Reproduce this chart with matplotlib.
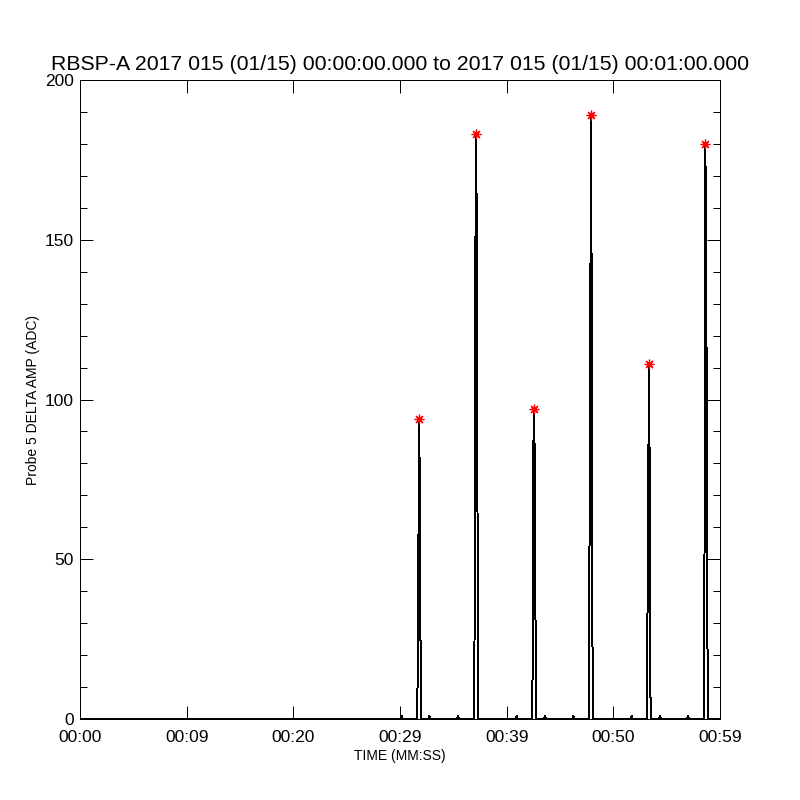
import numpy as np
import matplotlib
matplotlib.use("Agg")
import matplotlib.pyplot as plt
from matplotlib.ticker import MultipleLocator, FixedLocator, FixedFormatter

# probe 5 delta amplitude, one minute of data
time_s = [0.00, 30.07, 30.16, 30.25,
          31.57, 31.63, 31.72, 31.81, 31.89, 31.97,
          32.66, 32.75, 32.84, 35.35, 35.44, 35.53,
          36.91, 36.97, 37.06, 37.15, 37.23, 37.31,
          40.85, 40.94, 41.03,
          42.35, 42.41, 42.50, 42.59, 42.67, 42.75,
          43.50, 43.59, 43.68, 46.16, 46.25, 46.34,
          47.69, 47.75, 47.84, 47.93, 48.01, 48.09,
          51.63, 51.72, 51.81,
          53.13, 53.19, 53.28, 53.37, 53.45, 53.53,
          54.29, 54.38, 54.47, 56.91, 57.00, 57.09,
          58.47, 58.53, 58.62, 58.71, 58.78, 58.86,
          60.00]
amp_adc = [0, 0, 1, 0,
           0, 4, 51, 94, 41, 0,
           0, 1, 0, 0, 1, 0,
           0, 2, 143, 183, 117, 0,
           0, 1, 0,
           0, 1, 85, 97, 53, 0,
           0, 1, 0, 0, 1, 0,
           0, 38, 130, 189, 42, 0,
           0, 1, 0,
           0, 25, 80, 111, 12, 0,
           0, 1, 0, 0, 1, 0,
           0, 22, 180, 150, 55, 0,
           0]

xtick_pos = [0, 10, 20, 30, 40, 50, 60]
xtick_lab = ['00:00', '00:09', '00:20', '00:29', '00:39', '00:50', '00:59']

title = 'RBSP-A 2017 015 (01/15) 00:00:00.000 to 2017 015 (01/15) 00:01:00.000'

plt.rcParams['font.family'] = ['Liberation Sans', 'DejaVu Sans']

t = np.array(time_s)
a = np.array(amp_adc)
# peaks: local maxima of the big spikes
pk = [i for i in range(1, len(a) - 1) if a[i] > 50 and a[i] >= a[i-1] and a[i] >= a[i+1]]

fig = plt.figure(figsize=(8, 8), dpi=100)
ax = fig.add_axes([0.1, 0.10125, 0.8, 0.79875])

ax.plot(t, a, color='black', lw=0.72, antialiased=False, zorder=2)
ax.plot(t[pk], a[pk], ls='none', marker=(8, 2, 0), ms=7, mew=0.9,
        color='#ff0000', zorder=3)

ax.set_xlim(0, 60)
ax.set_ylim(0, 200)

ax.xaxis.set_major_locator(FixedLocator(xtick_pos))
ax.xaxis.set_major_formatter(FixedFormatter(xtick_lab))
ax.yaxis.set_major_locator(MultipleLocator(50))
ax.yaxis.set_minor_locator(MultipleLocator(10))

ax.tick_params(axis='both', which='both', direction='in', top=True, right=True,
               width=0.72, color='black')
ax.tick_params(axis='x', which='major', length=9.4, pad=8, labelsize=12.5)
ax.tick_params(axis='y', which='major', length=9.4, pad=4.5, labelsize=12.5)
ax.tick_params(axis='y', which='minor', length=4.7)
for s in ax.spines.values():
    s.set_linewidth(0.72)

ax.set_title(title, fontsize=15.3, pad=7)
ax.set_xlabel('TIME (MM:SS)', fontsize=10, labelpad=3)
ax.set_ylabel('Probe 5 DELTA AMP (ADC)', fontsize=10, labelpad=3)

fig.savefig('out.png', dpi=100, facecolor='white')
